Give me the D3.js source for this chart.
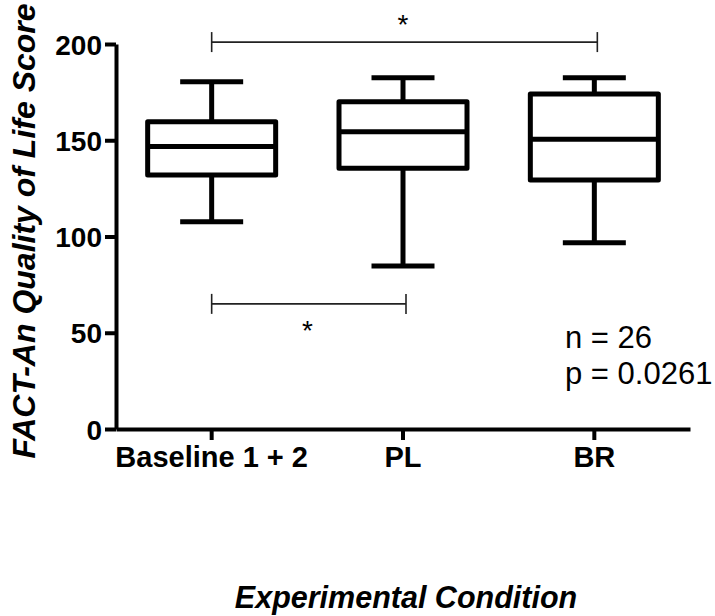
<!DOCTYPE html>
<html>
<head>
<meta charset="utf-8">
<script src="https://cdn.jsdelivr.net/npm/d3@7"></script>
<style>
  body { margin: 0; background: #fff; }
  text { font-family: "Liberation Sans", Arial, sans-serif; }
</style>
</head>
<body>
<script>
// Categories and box summary values
const conditions = ["Baseline 1 + 2", "PL", "BR"];
const whiskerMin = [107.7, 84.7, 96.8];
const q1 = [132, 135.4, 129.4];
const median = [146.7, 154.4, 150.5];
const q3 = [159.6, 170, 174];
const whiskerMax = [180.4, 182.5, 182.5];
const yTicks = [0, 50, 100, 150, 200];

// Significance brackets between conditions
const brackets = [
    { from: "Baseline 1 + 2", to: "BR", y: 201, side: "above" },
    { from: "Baseline 1 + 2", to: "PL", y: 65, side: "below" }
];

const width = 715, height = 616;
const margin = { top: 44, right: 25, bottom: 187, left: 116 };

const svg = d3.select("body").append("svg")
    .attr("width", width)
    .attr("height", height)
    .attr("viewBox", [0, 0, width, height]);

const x = d3.scaleBand()
    .domain(conditions)
    .range([margin.left, width - margin.right])
    .padding(0);

const y = d3.scaleLinear()
    .domain([0, 200])
    .range([height - margin.bottom, margin.top]);

const cx = d => x(d) + x.bandwidth() / 2;

// Y axis
const yAxis = svg.append("g")
    .attr("transform", `translate(${margin.left},0)`)
    .call(d3.axisLeft(y).tickValues(yTicks).tickSize(11).tickPadding(3).tickSizeOuter(0));
yAxis.select(".domain").attr("stroke", "#000").attr("stroke-width", 4);
yAxis.selectAll(".tick line").attr("stroke", "#000").attr("stroke-width", 4);
yAxis.selectAll(".tick text")
    .attr("fill", "#000")
    .style("font-size", "28px")
    .style("font-weight", "bold")
    .attr("dy", "0.36em");

// X axis
const xAxis = svg.append("g")
    .attr("transform", `translate(0,${y(0)})`)
    .call(d3.axisBottom(x).tickSize(11).tickPadding(6).tickSizeOuter(0));
xAxis.select(".domain").attr("stroke", "#000").attr("stroke-width", 4);
xAxis.selectAll(".tick line").attr("stroke", "#000").attr("stroke-width", 4);
xAxis.selectAll(".tick text")
    .attr("fill", "#000")
    .style("font-size", "29px")
    .style("font-weight", "bold");

// Boxes
const boxWidth = 128, capWidth = 63;
const boxData = conditions.map((c, i) => ({
    c, min: whiskerMin[i], q1: q1[i], med: median[i], q3: q3[i], max: whiskerMax[i]
}));

const box = svg.append("g")
    .selectAll("g")
    .data(boxData)
    .join("g")
    .attr("stroke", "#000")
    .attr("stroke-width", 5)
    .attr("fill", "none");

// whiskers
box.append("line")
    .attr("x1", d => cx(d.c)).attr("x2", d => cx(d.c))
    .attr("y1", d => y(d.max)).attr("y2", d => y(d.q3));
box.append("line")
    .attr("x1", d => cx(d.c)).attr("x2", d => cx(d.c))
    .attr("y1", d => y(d.q1)).attr("y2", d => y(d.min));
// caps
box.append("line")
    .attr("x1", d => cx(d.c) - capWidth / 2).attr("x2", d => cx(d.c) + capWidth / 2)
    .attr("y1", d => y(d.max)).attr("y2", d => y(d.max));
box.append("line")
    .attr("x1", d => cx(d.c) - capWidth / 2).attr("x2", d => cx(d.c) + capWidth / 2)
    .attr("y1", d => y(d.min)).attr("y2", d => y(d.min));
// box
box.append("rect")
    .attr("x", d => cx(d.c) - boxWidth / 2)
    .attr("width", boxWidth)
    .attr("y", d => y(d.q3))
    .attr("height", d => y(d.q1) - y(d.q3))
    .attr("stroke-linejoin", "round");
// median
box.append("line")
    .attr("x1", d => cx(d.c) - boxWidth / 2).attr("x2", d => cx(d.c) + boxWidth / 2)
    .attr("y1", d => y(d.med)).attr("y2", d => y(d.med));

// Significance brackets
const br = svg.append("g")
    .selectAll("g")
    .data(brackets)
    .join("g")
    .attr("stroke", "#222")
    .attr("stroke-width", 1.6);

br.append("line")
    .attr("x1", d => cx(d.from)).attr("x2", d => cx(d.to) + 3)
    .attr("y1", d => y(d.y)).attr("y2", d => y(d.y));
br.append("line")
    .attr("x1", d => cx(d.from)).attr("x2", d => cx(d.from))
    .attr("y1", d => y(d.y) - 10).attr("y2", d => y(d.y) + 10);
br.append("line")
    .attr("x1", d => cx(d.to) + 3).attr("x2", d => cx(d.to) + 3)
    .attr("y1", d => y(d.y) - 10).attr("y2", d => y(d.y) + 10);
br.append("text")
    .attr("stroke", "none")
    .attr("fill", "#000")
    .attr("text-anchor", "middle")
    .attr("x", d => (cx(d.from) + cx(d.to)) / 2)
    .attr("y", d => d.side === "above" ? y(d.y) - 8 : y(d.y) + 36)
    .style("font-size", "28px")
    .text("*");

// Stats annotation
const stats = ["n = 26", "p = 0.0261"];
svg.append("g")
    .selectAll("text")
    .data(stats)
    .join("text")
    .attr("x", 565)
    .attr("y", (d, i) => 348 + i * 36)
    .style("font-size", "31px")
    .attr("fill", "#000")
    .text(d => d);

// Axis titles
svg.append("text")
    .attr("transform", `translate(35,${231}) rotate(-90)`)
    .attr("text-anchor", "middle")
    .style("font-size", "32px")
    .style("font-weight", "bold")
    .style("font-style", "italic")
    .text("FACT-An Quality of Life Score");

svg.append("text")
    .attr("x", 406)
    .attr("y", 608)
    .attr("text-anchor", "middle")
    .style("font-size", "30.5px")
    .style("font-weight", "bold")
    .style("font-style", "italic")
    .text("Experimental Condition");
</script>
</body>
</html>
